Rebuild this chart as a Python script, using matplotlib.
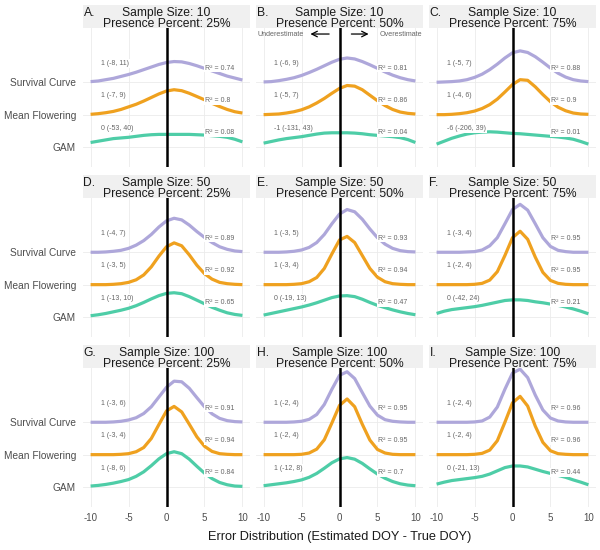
import matplotlib.pyplot as plt
from matplotlib.patches import Rectangle

plt.rcParams['font.family'] = ['Liberation Sans', 'DejaVu Sans']

x_vals = list(range(-10, 11))

panel_letters = ['A', 'B', 'C', 'D', 'E', 'F', 'G', 'H', 'I']
sample_sizes = [10, 50, 100]
presence = [25, 50, 75]
methods = ['GAM', 'Mean Flowering', 'Survival Curve']  # bottom to top

# ridge heights, 1 = distance between two ridges
survival = {
    'A': [0.02, 0.04, 0.08, 0.12, 0.18, 0.24, 0.31, 0.39, 0.47, 0.55, 0.61, 0.64, 0.63, 0.58, 0.51, 0.43, 0.35, 0.27, 0.19, 0.13, 0.07],
    'B': [0.01, 0.02, 0.05, 0.09, 0.14, 0.21, 0.30, 0.40, 0.51, 0.62, 0.71, 0.75, 0.72, 0.64, 0.54, 0.43, 0.32, 0.22, 0.14, 0.08, 0.04],
    'C': [0.0, 0.01, 0.02, 0.04, 0.08, 0.15, 0.25, 0.39, 0.56, 0.75, 0.91, 0.97, 0.92, 0.79, 0.62, 0.44, 0.28, 0.16, 0.08, 0.04, 0.02],
    'D': [0.0, 0.0, 0.01, 0.03, 0.06, 0.12, 0.22, 0.36, 0.55, 0.78, 0.97, 1.05, 1.00, 0.84, 0.64, 0.46, 0.30, 0.17, 0.09, 0.04, 0.02],
    'E': [0.0, 0.0, 0.0, 0.01, 0.03, 0.07, 0.15, 0.30, 0.55, 0.88, 1.18, 1.32, 1.25, 1.02, 0.72, 0.45, 0.25, 0.12, 0.05, 0.02, 0.01],
    'F': [0.0, 0.0, 0.0, 0.0, 0.01, 0.02, 0.07, 0.20, 0.45, 0.88, 1.32, 1.48, 1.30, 0.88, 0.45, 0.18, 0.06, 0.02, 0.0, 0.0, 0.0],
    'G': [0.0, 0.0, 0.0, 0.01, 0.03, 0.07, 0.14, 0.27, 0.48, 0.78, 1.08, 1.27, 1.25, 1.05, 0.76, 0.48, 0.26, 0.12, 0.05, 0.02, 0.01],
    'H': [0.0, 0.0, 0.0, 0.0, 0.01, 0.03, 0.09, 0.24, 0.55, 1.02, 1.45, 1.56, 1.35, 0.92, 0.50, 0.22, 0.08, 0.03, 0.01, 0.0, 0.0],
    'I': [0.0, 0.0, 0.0, 0.0, 0.0, 0.01, 0.04, 0.16, 0.47, 1.02, 1.52, 1.64, 1.38, 0.84, 0.38, 0.13, 0.04, 0.01, 0.0, 0.0, 0.0],
}
mean_flowering = {
    'A': [0.01, 0.03, 0.06, 0.10, 0.16, 0.24, 0.32, 0.42, 0.53, 0.64, 0.73, 0.77, 0.74, 0.66, 0.56, 0.46, 0.35, 0.25, 0.16, 0.09, 0.05],
    'B': [0.0, 0.01, 0.02, 0.05, 0.09, 0.15, 0.24, 0.36, 0.50, 0.66, 0.81, 0.90, 0.88, 0.77, 0.60, 0.43, 0.28, 0.16, 0.08, 0.04, 0.02],
    'C': [0.0, 0.0, 0.01, 0.03, 0.06, 0.11, 0.19, 0.31, 0.48, 0.70, 0.93, 1.08, 1.06, 0.86, 0.62, 0.40, 0.23, 0.12, 0.05, 0.02, 0.01],
    'D': [0.0, 0.0, 0.0, 0.01, 0.03, 0.07, 0.15, 0.30, 0.55, 0.88, 1.17, 1.29, 1.20, 0.92, 0.60, 0.34, 0.17, 0.07, 0.03, 0.01, 0.0],
    'E': [0.0, 0.0, 0.0, 0.0, 0.01, 0.03, 0.09, 0.22, 0.50, 0.95, 1.38, 1.49, 1.30, 0.90, 0.50, 0.23, 0.09, 0.03, 0.01, 0.0, 0.0],
    'F': [0.0, 0.0, 0.0, 0.0, 0.0, 0.01, 0.04, 0.14, 0.40, 0.90, 1.45, 1.65, 1.40, 0.85, 0.38, 0.13, 0.04, 0.01, 0.0, 0.0, 0.0],
    'G': [0.0, 0.0, 0.0, 0.0, 0.01, 0.03, 0.09, 0.22, 0.50, 0.93, 1.35, 1.49, 1.32, 0.94, 0.55, 0.26, 0.10, 0.03, 0.01, 0.0, 0.0],
    'H': [0.0, 0.0, 0.0, 0.0, 0.0, 0.01, 0.05, 0.17, 0.46, 0.98, 1.52, 1.72, 1.48, 0.94, 0.45, 0.16, 0.05, 0.01, 0.0, 0.0, 0.0],
    'I': [0.0, 0.0, 0.0, 0.0, 0.0, 0.01, 0.04, 0.14, 0.43, 1.00, 1.60, 1.80, 1.50, 0.88, 0.38, 0.12, 0.03, 0.01, 0.0, 0.0, 0.0],
}
gam = {
    'A': [0.14, 0.18, 0.22, 0.26, 0.28, 0.30, 0.33, 0.36, 0.38, 0.39, 0.39, 0.39, 0.39, 0.39, 0.38, 0.37, 0.35, 0.33, 0.30, 0.24, 0.16],
    'B': [0.12, 0.17, 0.22, 0.26, 0.29, 0.32, 0.36, 0.40, 0.43, 0.44, 0.44, 0.44, 0.43, 0.41, 0.38, 0.36, 0.34, 0.32, 0.29, 0.23, 0.14],
    'C': [0.09, 0.18, 0.27, 0.34, 0.40, 0.44, 0.46, 0.47, 0.46, 0.44, 0.42, 0.41, 0.39, 0.37, 0.35, 0.33, 0.31, 0.28, 0.24, 0.17, 0.09],
    'D': [0.04, 0.07, 0.11, 0.16, 0.21, 0.27, 0.35, 0.45, 0.56, 0.66, 0.73, 0.75, 0.72, 0.63, 0.52, 0.41, 0.30, 0.21, 0.13, 0.08, 0.05],
    'E': [0.06, 0.11, 0.16, 0.21, 0.26, 0.31, 0.37, 0.44, 0.52, 0.60, 0.65, 0.66, 0.63, 0.55, 0.45, 0.36, 0.29, 0.22, 0.16, 0.11, 0.07],
    'F': [0.11, 0.18, 0.23, 0.26, 0.29, 0.32, 0.36, 0.41, 0.46, 0.51, 0.53, 0.53, 0.51, 0.47, 0.44, 0.40, 0.36, 0.31, 0.25, 0.18, 0.10],
    'G': [0.03, 0.05, 0.08, 0.12, 0.17, 0.23, 0.33, 0.47, 0.66, 0.87, 1.03, 1.09, 1.03, 0.86, 0.64, 0.43, 0.26, 0.14, 0.07, 0.03, 0.02],
    'H': [0.04, 0.07, 0.10, 0.13, 0.17, 0.22, 0.30, 0.42, 0.58, 0.75, 0.87, 0.91, 0.86, 0.73, 0.56, 0.40, 0.27, 0.17, 0.10, 0.06, 0.04],
    'I': [0.09, 0.15, 0.20, 0.23, 0.26, 0.29, 0.33, 0.40, 0.50, 0.60, 0.65, 0.65, 0.62, 0.55, 0.48, 0.42, 0.36, 0.30, 0.22, 0.15, 0.07],
}

# median (95% range) labels, order: GAM, Mean Flowering, Survival Curve
median_ci = {
    'A': ['0 (-53, 40)', '1 (-7, 9)', '1 (-8, 11)'],
    'B': ['-1 (-131, 43)', '1 (-5, 7)', '1 (-6, 9)'],
    'C': ['-6 (-206, 39)', '1 (-4, 6)', '1 (-5, 7)'],
    'D': ['1 (-13, 10)', '1 (-3, 5)', '1 (-4, 7)'],
    'E': ['0 (-19, 13)', '1 (-3, 4)', '1 (-3, 5)'],
    'F': ['0 (-42, 24)', '1 (-2, 4)', '1 (-3, 4)'],
    'G': ['1 (-8, 6)', '1 (-3, 4)', '1 (-3, 6)'],
    'H': ['1 (-12, 8)', '1 (-2, 4)', '1 (-2, 4)'],
    'I': ['0 (-21, 13)', '1 (-2, 4)', '1 (-2, 4)'],
}
r2 = {
    'A': [0.08, 0.8, 0.74],
    'B': [0.04, 0.86, 0.81],
    'C': [0.01, 0.9, 0.88],
    'D': [0.65, 0.92, 0.89],
    'E': [0.47, 0.94, 0.93],
    'F': [0.21, 0.95, 0.95],
    'G': [0.84, 0.94, 0.91],
    'H': [0.7, 0.95, 0.95],
    'I': [0.44, 0.96, 0.96],
}

colors = {'Survival Curve': '#AEA7DA', 'Mean Flowering': '#EFA11F', 'GAM': '#4ECDA7'}
heights = {'Survival Curve': survival, 'Mean Flowering': mean_flowering, 'GAM': gam}

W, H = 600, 550
fig = plt.figure(figsize=(6, 5.5), dpi=100)

col_left = [83, 256, 429]
col_w = 167
row_top = [5, 175, 345]
strip_h = 23
panel_h = 139


def fx(px):
    return px / W


def fy(py):
    return 1 - py / H


for i, letter in enumerate(panel_letters):
    r, c = divmod(i, 3)
    left = col_left[c]
    top = row_top[r]

    # strip
    fig.add_artist(Rectangle((fx(left), fy(top + strip_h)), col_w / W, strip_h / H,
                             transform=fig.transFigure, facecolor='#F0F0F0',
                             edgecolor='none'))
    fig.text(fx(left + 0.5), fy(top + 10.7), letter + '.', ha='left', va='baseline',
             fontsize=8.7, color='#1A1A1A')
    fig.text(fx(left + col_w / 2), fy(top + 10.7), f'Sample Size: {sample_sizes[r]}',
             ha='center', va='baseline', fontsize=8.7, color='#1A1A1A')
    fig.text(fx(left + col_w / 2), fy(top + 21.7), f'Presence Percent: {presence[c]}%',
             ha='center', va='baseline', fontsize=8.7, color='#1A1A1A')

    ax = fig.add_axes([fx(left), fy(top + strip_h + panel_h), col_w / W, panel_h / H])
    ax.set_xlim(-11, 11)
    ax.set_ylim(0.383, 4.676)
    for s in ax.spines.values():
        s.set_visible(False)
    ax.set_xticks([-10, -5, 0, 5, 10])
    ax.set_yticks([1, 2, 3])
    ax.grid(True, color='#EBEBEB', linewidth=0.6)
    ax.set_axisbelow(True)
    ax.tick_params(length=0, labelsize=7, colors='#4D4D4D', pad=4)
    if c == 0:
        ax.set_yticklabels(methods)
        ax.tick_params(axis='y', pad=5, labelsize=7.3)
    else:
        ax.set_yticklabels([])
    if r == 2:
        ax.set_xticklabels(['-10', '-5', '0', '5', '10'])
    else:
        ax.set_xticklabels([])

    # ridges: top one first, so lower ridges sit on top
    for k in (2, 1, 0):
        m = methods[k]
        base = k + 1
        ys = [base + h for h in heights[m][letter]]
        ax.plot(x_vals, ys, color=colors[m], linewidth=2.3, solid_capstyle='butt',
                solid_joinstyle='round', zorder=3 + (2 - k), clip_on=False)

    ax.axvline(0, color='black', linewidth=1.8, zorder=6)

    box = dict(boxstyle='square,pad=0.12', facecolor='white', edgecolor='none')
    for k, m in enumerate(methods):
        base = k + 1
        ax.text(-8.6, base + 0.58, median_ci[letter][k], ha='left', va='center',
                fontsize=5, color='#666666', bbox=box, zorder=7)
        ax.text(5.1, base + 0.44, f'R² = {r2[letter][k]:g}', ha='left', va='center',
                fontsize=5, color='#666666', bbox=box, zorder=7)

    if letter == 'B':
        ax.text(-10.8, 4.46, 'Underestimate', ha='left', va='center', fontsize=5.1,
                color='#666666', zorder=7)
        ax.text(10.9, 4.46, 'Overestimate', ha='right', va='center', fontsize=5.1,
                color='#666666', zorder=7)
        ax.annotate('', xy=(-4.2, 4.49), xytext=(-1.0, 4.49),
                    arrowprops=dict(arrowstyle='->', color='black', lw=0.9))
        ax.annotate('', xy=(4.2, 4.49), xytext=(1.2, 4.49),
                    arrowprops=dict(arrowstyle='->', color='black', lw=0.9))

fig.text(fx(339.5), fy(537), 'Error Distribution (Estimated DOY - True DOY)',
         ha='center', va='center', fontsize=9.2, color='#1A1A1A')

fig.savefig('out.png', dpi=100)
